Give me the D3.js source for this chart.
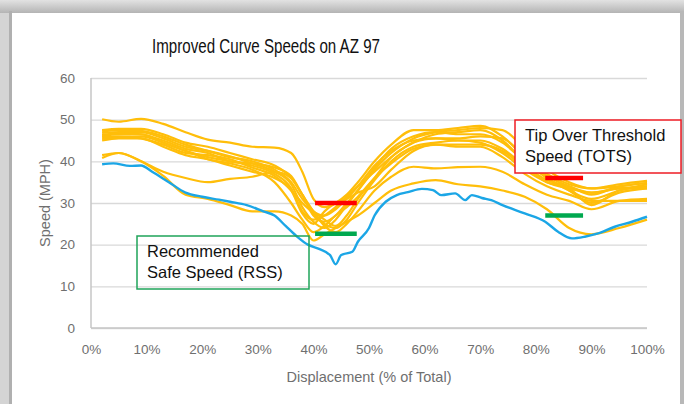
<!DOCTYPE html>
<html>
<head>
<meta charset="utf-8">
<script src="https://cdn.jsdelivr.net/npm/d3@7"></script>
<style>
  body { margin: 0; background: #fff; }
  svg { display: block; }
</style>
</head>
<body>
<svg id="chart" width="684" height="404"></svg>
<script>
// x positions (% of total displacement) shared by the gold runs
var goldX = [2, 5, 9, 13, 17, 21, 25, 29, 33, 36, 38, 40, 42, 44, 46, 48, 51, 54, 58, 62, 66, 70, 74, 78, 82, 86, 90, 95, 100]

// gold speed runs (MPH)
var runA = [50.1, 49.5, 50.2, 49, 47, 45.2, 44.5, 43.5, 43.3, 42, 37.5, 31, 29, 30, 32, 35, 40, 44, 47.5, 47.5, 48, 48.5, 46, 41, 37, 34.5, 33.5, 34, 34.8]
var runB = [47.5, 47.8, 47.8, 46.5, 44.5, 43.5, 42, 40.5, 39, 36, 32, 27, 25.5, 27, 30, 33, 38, 42, 45.5, 47, 47.5, 48, 47.5, 43, 38, 35, 33.5, 34.5, 35.3]
var runC = [47.2, 47.5, 47.3, 46, 44, 42.5, 41, 40, 38, 35, 31, 28, 26, 24.5, 27, 31, 36, 41, 44.5, 46.5, 47, 47.5, 45, 40, 36, 33, 31, 33, 34.5]
var runD = [46.8, 47, 47, 45.5, 43.5, 42.5, 41.2, 39.5, 37.5, 34.5, 29, 25.5, 24, 26, 29.5, 33, 38.5, 43, 46, 47, 46.5, 46.5, 44.5, 40, 36.5, 34, 32.5, 33.5, 34]
var runE = [46.3, 46.8, 46.5, 45, 43, 42, 40, 39.5, 38.5, 36.5, 32, 28, 27, 28.5, 31, 34, 39, 42.5, 45, 45.5, 45.5, 46, 45.5, 41, 36, 33, 30, 32.5, 33.5]
var runF = [46, 46.5, 46.5, 44.5, 42.5, 41, 40, 39, 37, 33.5, 28, 26, 27, 29, 31.5, 34, 37.5, 41, 44.5, 45.5, 45, 45, 43, 39, 35.5, 34, 32, 34, 34.8]
var runG = [45.8, 46, 45.5, 44, 42, 41.5, 40.5, 38.5, 36.5, 33, 30, 27.5, 25, 24, 26, 30, 35.5, 40, 43.5, 44.5, 45, 44.5, 42, 38, 35, 33.5, 29.5, 33, 34]
var runH = [45.4, 45.8, 46, 44.5, 42.5, 40.5, 39.5, 38, 35, 30, 26, 23, 24.5, 27, 29, 31.5, 36, 39.5, 43, 44, 44, 44, 42.5, 38.5, 35, 33.5, 32.5, 33.5, 33.5]
var runI = [45, 45.5, 45.5, 43.5, 41.5, 40.5, 39, 37.5, 36, 33, 27.5, 25, 28, 30, 31, 32.5, 34, 38, 42.5, 44, 43.5, 43.5, 41, 37, 34, 32, 30.5, 30.5, 30.5]
var runJ = [41.5, 42, 40, 36.5, 32, 31, 29.5, 28, 28, 27, 25, 21, 22.5, 24, 25.5, 27, 30, 33, 34.7, 35.5, 34.5, 34, 33, 31.5, 28.5, 24, 22.5, 24, 26]
var runK = [40.8, 42, 40, 37.5, 36, 35, 35.8, 36.3, 37.5, 36, 32, 28, 24.5, 23, 25, 28, 33, 36.3, 38.7, 38.3, 38.6, 38.7, 37.5, 34.5, 32, 30.5, 28.5, 30.5, 31]
var goldRuns = [runA, runB, runC, runD, runE, runF, runG, runH, runI, runJ, runK]

// blue run, own x positions
var blueX = [2, 4, 7, 9, 11, 14, 17, 20, 23, 25, 28, 31, 33, 35, 37, 39, 41, 43, 44, 45, 47, 48, 50, 51, 53, 55, 57, 59.5, 61.5, 63, 65.5, 67.3, 68.5, 70.3, 72, 74, 78, 81.7, 84, 86.5, 88.8, 91.2, 94.2, 97.3, 100]
var blueV = [39.3, 39.5, 38.9, 39, 37.5, 35, 32.5, 31.5, 30.8, 30.3, 29.5, 28, 27, 24.5, 22, 20, 19, 17.5, 15.3, 17.5, 18.3, 20.7, 24, 27, 30.3, 31.9, 32.6, 33.4, 33.1, 31.9, 32.3, 30.7, 31.9, 31.2, 30.7, 29.5, 27.5, 25.5, 23.1, 21.5, 21.9, 22.7, 24.3, 25.5, 26.7]

// threshold bars: [start %, end %, speed]
var totsBars = [[40.3, 47.8, 30], [81.7, 88.5, 36]]
var rssBars = [[40.3, 47.8, 22.6], [81.7, 88.5, 27]]

var xTicks = [0, 10, 20, 30, 40, 50, 60, 70, 80, 90, 100]
var yTicks = [0, 10, 20, 30, 40, 50, 60]

var svg = d3.select("#chart")

// grey picture frame round the chart
svg.append("rect").attr("width", 684).attr("height", 404).attr("fill", "#d4d4d4")
var grad = svg.append("defs").append("linearGradient")
        .attr("id", "topShade").attr("x1", 0).attr("y1", 0).attr("x2", 0).attr("y2", 1)
grad.append("stop").attr("offset", "0%").attr("stop-color", "#e2e2e2")
grad.append("stop").attr("offset", "100%").attr("stop-color", "#b4b4b4")
svg.append("rect").attr("x", 0).attr("y", 0).attr("width", 684).attr("height", 13).attr("fill", "url(#topShade)")
svg.append("rect").attr("x", 9).attr("y", 11).attr("width", 3).attr("height", 393).attr("fill", "#b0b0b0")
svg.append("rect").attr("x", 680).attr("y", 11).attr("width", 4).attr("height", 393).attr("fill", "#b8b8b8")
svg.append("rect").attr("x", 12).attr("y", 13).attr("width", 668).attr("height", 391).attr("fill", "#fff")

var x = d3.scaleLinear().domain([0, 100]).range([91, 647])
var y = d3.scaleLinear().domain([0, 60]).range([328, 78])

// gridlines
svg.append("g")
        .attr("transform", "translate(91,0)")
        .call(d3.axisLeft(y).tickValues(yTicks).tickSize(-556).tickFormat(""))
        .call(g => g.select(".domain").remove())
        .selectAll("line")
        .attr("stroke", "#d9d9d9")
        .attr("stroke-width", 1.3)

// axis lines
svg.append("line").attr("x1", x(0)).attr("x2", x(0)).attr("y1", y(60)).attr("y2", y(0))
        .attr("stroke", "#c6c6c6").attr("stroke-width", 1.5)
svg.append("line").attr("x1", x(0)).attr("x2", x(100)).attr("y1", y(0)).attr("y2", y(0))
        .attr("stroke", "#c6c6c6").attr("stroke-width", 1.5)

// tick labels
svg.append("g")
        .attr("transform", "translate(0,341)")
        .call(d3.axisBottom(x).tickValues(xTicks).tickSize(0).tickFormat(d => d + "%"))
        .call(g => g.select(".domain").remove())
        .selectAll("text")
        .attr("font-family", "Liberation Sans, Arial, sans-serif")
        .attr("font-size", 13.5)
        .attr("fill", "#6f6f6f")

svg.append("g")
        .attr("transform", "translate(78,0)")
        .call(d3.axisLeft(y).tickValues(yTicks).tickSize(0))
        .call(g => g.select(".domain").remove())
        .selectAll("text")
        .attr("font-family", "Liberation Sans, Arial, sans-serif")
        .attr("font-size", 13.5)
        .attr("fill", "#6f6f6f")

// titles
svg.append("text")
        .attr("x", 152).attr("y", 53)
        .attr("textLength", 228).attr("lengthAdjust", "spacingAndGlyphs")
        .attr("font-family", "Liberation Sans, Arial, sans-serif")
        .attr("font-size", 21)
        .attr("fill", "#111")
        .text("Improved Curve Speeds on AZ 97")

svg.append("text")
        .attr("x", 369).attr("y", 382)
        .attr("text-anchor", "middle")
        .attr("font-family", "Liberation Sans, Arial, sans-serif")
        .attr("font-size", 14.5)
        .attr("fill", "#6f6f6f")
        .text("Displacement (% of Total)")

svg.append("text")
        .attr("transform", "rotate(-90)")
        .attr("x", -203).attr("y", 50)
        .attr("text-anchor", "middle")
        .attr("font-family", "Liberation Sans, Arial, sans-serif")
        .attr("font-size", 14.5)
        .attr("fill", "#6f6f6f")
        .text("Speed (MPH)")

// speed runs
var line = d3.line()
        .x(d => x(d[0]))
        .y(d => y(d[1]))
        .curve(d3.curveMonotoneX)

svg.selectAll(".gold")
        .data(goldRuns)
        .enter()
        .append("path")
        .attr("class", "gold")
        .attr("fill", "none")
        .attr("stroke", "#ffbe0a")
        .attr("stroke-width", 2.2)
        .attr("d", d => line(d.map((v, i) => [goldX[i], v])))

svg.append("path")
        .attr("fill", "none")
        .attr("stroke", "#1ba6e6")
        .attr("stroke-width", 2.4)
        .attr("d", line(blueV.map((v, i) => [blueX[i], v])))

// TOTS / RSS bars
svg.selectAll(".tots")
        .data(totsBars)
        .enter()
        .append("line")
        .attr("x1", d => x(d[0])).attr("x2", d => x(d[1]))
        .attr("y1", d => y(d[2])).attr("y2", d => y(d[2]))
        .attr("stroke", "#ff0000").attr("stroke-width", 4.5)

svg.selectAll(".rss")
        .data(rssBars)
        .enter()
        .append("line")
        .attr("x1", d => x(d[0])).attr("x2", d => x(d[1]))
        .attr("y1", d => y(d[2])).attr("y2", d => y(d[2]))
        .attr("stroke", "#00a84f").attr("stroke-width", 4.5)

// callout boxes
svg.append("rect")
        .attr("x", 137).attr("y", 236).attr("width", 172).attr("height", 53)
        .attr("fill", "none").attr("stroke", "#1fa45a").attr("stroke-width", 1.5)
svg.append("text")
        .attr("x", 147).attr("y", 257)
        .attr("font-family", "Liberation Sans, Arial, sans-serif")
        .attr("font-size", 16.5).attr("fill", "#111")
        .text("Recommended")
svg.append("text")
        .attr("x", 147).attr("y", 278)
        .attr("font-family", "Liberation Sans, Arial, sans-serif")
        .attr("font-size", 16.5).attr("fill", "#111")
        .text("Safe Speed (RSS)")

svg.append("rect")
        .attr("x", 515).attr("y", 120).attr("width", 166).attr("height", 53)
        .attr("fill", "#fff").attr("stroke", "#ee1c24").attr("stroke-width", 1.5)
svg.append("text")
        .attr("x", 525).attr("y", 141)
        .attr("font-family", "Liberation Sans, Arial, sans-serif")
        .attr("font-size", 16.5).attr("fill", "#111")
        .text("Tip Over Threshold")
svg.append("text")
        .attr("x", 525).attr("y", 162)
        .attr("font-family", "Liberation Sans, Arial, sans-serif")
        .attr("font-size", 16.5).attr("fill", "#111")
        .text("Speed (TOTS)")
</script>
</body>
</html>
